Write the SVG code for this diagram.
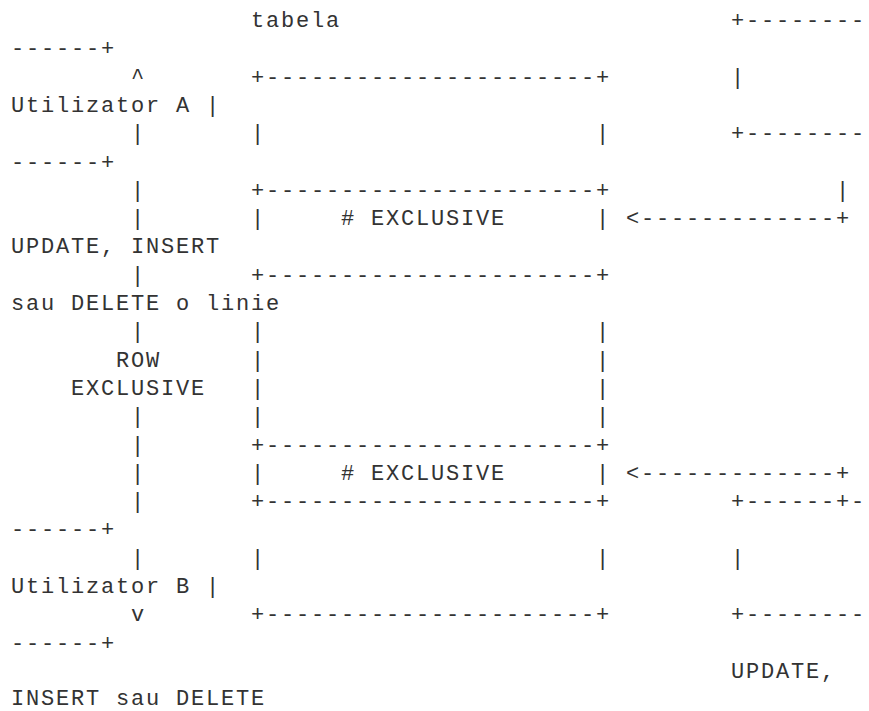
<svg xmlns="http://www.w3.org/2000/svg" width="869" height="711" viewBox="0 0 869 711">
<style>
text{font-family:"Liberation Mono","Courier New",monospace;font-size:22px;letter-spacing:1.8px;fill:#333;white-space:pre}
</style>
<rect width="869" height="711" fill="#fff"/>
<g id="table" transform="translate(1,0)">
<text x="250" y="27">tabela</text>
<text x="250" y="83.6">+----------------------+</text>
<text x="250" y="140.2">|</text><text x="595" y="140.2">|</text>
<text x="250" y="196.8">+----------------------+</text>
<text x="250" y="225.1">|</text><text x="340" y="225.1"># EXCLUSIVE</text><text x="595" y="225.1">|</text>
<text x="250" y="281.7">+----------------------+</text>
<text x="250" y="338.3">|</text><text x="595" y="338.3">|</text>
<text x="250" y="366.6">|</text><text x="595" y="366.6">|</text>
<text x="250" y="394.9">|</text><text x="595" y="394.9">|</text>
<text x="250" y="423.2">|</text><text x="595" y="423.2">|</text>
<text x="250" y="451.5">+----------------------+</text>
<text x="250" y="479.8">|</text><text x="340" y="479.8"># EXCLUSIVE</text><text x="595" y="479.8">|</text>
<text x="250" y="508.1">+----------------------+</text>
<text x="250" y="564.7">|</text><text x="595" y="564.7">|</text>
<text x="250" y="621.3">+----------------------+</text>
</g>
<g id="user-a" transform="translate(1,0)">
<text x="730" y="27">+--------</text>
<text x="10" y="55.3">------+</text>
<text x="730" y="83.6">|</text>
<text x="10" y="111.9">Utilizator A |</text>
<text x="730" y="140.2">+--------</text>
<text x="10" y="168.5">------+</text>
</g>
<g id="user-b" transform="translate(1,0)">
<text x="730" y="508.1">+------+-</text>
<text x="10" y="536.4">------+</text>
<text x="730" y="564.7">|</text>
<text x="10" y="593">Utilizator B |</text>
<text x="730" y="621.3">+--------</text>
<text x="10" y="649.6">------+</text>
</g>
<g id="connectors" transform="translate(1,0)">
<text x="130" y="83.6">^</text>
<text x="130" y="140.2">|</text>
<text x="130" y="196.8">|</text>
<text x="130" y="225.1">|</text>
<text x="130" y="281.7">|</text>
<text x="130" y="338.3">|</text>
<text x="115" y="366.6">ROW</text>
<text x="70" y="394.9">EXCLUSIVE</text>
<text x="130" y="423.2">|</text>
<text x="130" y="451.5">|</text>
<text x="130" y="479.8">|</text>
<text x="130" y="508.1">|</text>
<text x="130" y="564.7">|</text>
<text x="130" y="621.3">v</text>
<text x="835" y="196.8">|</text>
<text x="625" y="225.1">&lt;-------------+</text>
<text x="10" y="253.4">UPDATE, INSERT</text>
<text x="10" y="310">sau DELETE o linie</text>
<text x="625" y="479.8">&lt;-------------+</text>
<text x="730" y="677.9">UPDATE,</text>
<text x="10" y="705">INSERT sau DELETE</text>
</g>
</svg>
